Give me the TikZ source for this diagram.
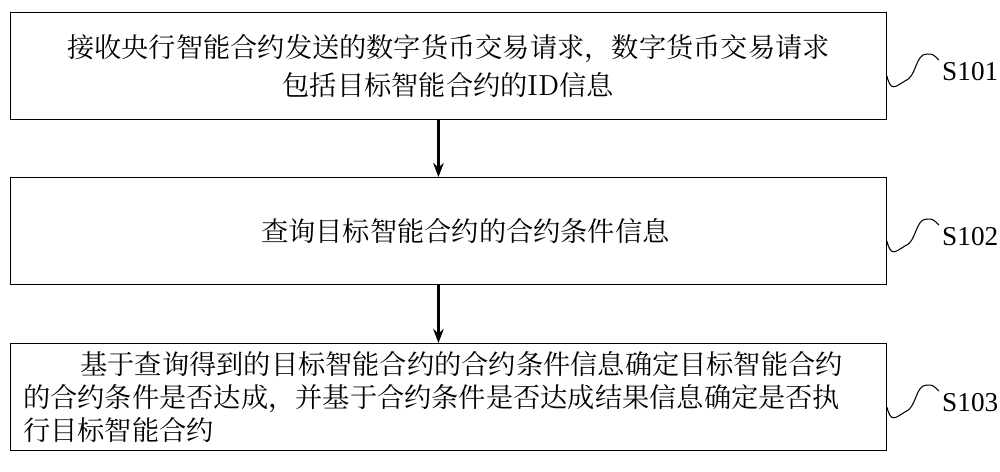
\documentclass[tikz,border=0pt]{standalone}
\usepackage{fontspec}
\setmainfont{Liberation Serif}
\newfontfamily\cjk{Noto Serif CJK SC}
\usetikzlibrary{positioning,arrows.meta}
\begin{document}
\begin{tikzpicture}[
  x=0.02cm, y=-0.02cm, font=\fontsize{15.5}{22}\selectfont, >={Stealth[length=8pt,width=6pt]},
  stepbox/.style={draw, line width=0.6pt, minimum width=17.52cm, minimum height=2.14cm, inner sep=0pt, anchor=north west},
  steptag/.style={anchor=west, inner sep=0pt}
]
\useasboundingbox (0,0) rectangle (1000,471);

\node[stepbox] (b1) at (10,12) {};
\node[stepbox] (b2) at (10,177) {};
\node[stepbox] (b3) at (10,343) {};

\node[align=center] (t1) at (b1.center) {\cjk 接收央行智能合约发送的数字货币交易请求，数字货币交易请求\\\cjk 包括目标智能合约的ID信息};
\node[anchor=west] (t2) at ([xshift=4.9cm]b2.west) {\cjk 查询目标智能合约的合约条件信息};
\node[align=left, anchor=west, font=\fontsize{15.5}{19}\selectfont] (t3) at ([xshift=0.14cm]b3.west) {\cjk\hspace*{2.1em}基于查询得到的目标智能合约的合约条件信息确定目标智能合约\\\cjk 的合约条件是否达成，并基于合约条件是否达成结果信息确定是否执\\\cjk 行目标智能合约};

\draw[->, line width=1.2pt] (b1.south) ++(-10,0) coordinate (a1) -- (a1 |- b2.north);
\draw[->, line width=1.2pt] (b2.south) ++(-10,0) coordinate (a2) -- (a2 |- b3.north);

% step tags
\foreach \b/\s in {b1/S101, b2/S102, b3/S103}{
  \coordinate (c-\b) at ([yshift=-0.2cm]\b.east);
  \draw[line width=0.6pt] (c-\b) .. controls +(4,16) and +(-10,6) .. +(18,5)
     .. controls +(12,-4) and +(-12,0) .. +(40,-22) .. controls +(6,0) .. +(52,-16) coordinate (e-\b);
  \node[steptag] at ([xshift=0.06cm,yshift=-0.24cm]e-\b) {\s};
}
\end{tikzpicture}
\end{document}
